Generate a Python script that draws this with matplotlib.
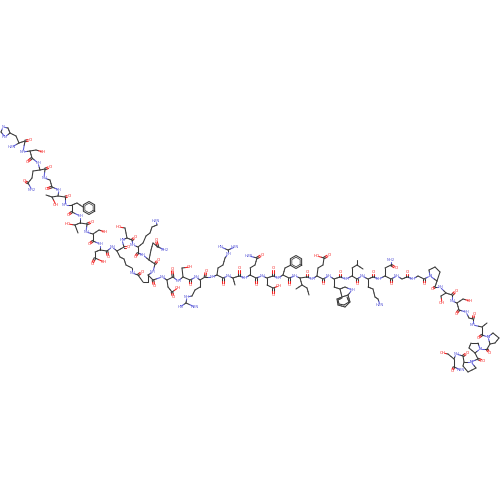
import numpy as np
import matplotlib
matplotlib.use("Agg")
import matplotlib.pyplot as plt

# atoms are (x, y, label), label empty for carbon
backbone = [
    (19, 143, ""), (25, 141, ""), (23, 152, "NH"), (30, 151, ""), (32, 158, ""), (38, 163, "NH"),
    (40, 170, ""), (45, 169, ""), (44, 178, "NH"), (50, 180, ""), (52, 187, ""), (59, 190, "NH"),
    (58, 196, ""), (65, 197, ""), (65, 205, "NH"), (72, 205, ""), (72, 212, ""), (80, 216, "NH"),
    (80, 223, ""), (87, 224, ""), (86, 232, "NH"), (93, 234, ""), (93, 241, ""), (100, 244, "NH"),
    (100, 250, ""), (107, 251, ""), (112, 247, "NH"), (117, 251, ""), (124, 247, ""), (122, 240, "HN"),
    (127, 238, ""), (132, 240, ""), (133, 245, "NH"), (138, 247, ""), (138, 253, ""), (143, 255, "NH"),
    (149, 260, ""), (155, 264, ""), (153, 272, "NH"), (148, 275, ""), (153, 280, ""), (162, 277, "NH"),
    (167, 280, ""), (173, 277, ""), (178, 281, "NH"), (183, 277, ""), (190, 280, ""), (196, 277, "NH"),
    (200, 280, ""), (205, 277, ""), (212, 277, "NH"), (217, 275, ""), (223, 278, ""), (228, 276, "NH"),
    (233, 278, ""), (239, 276, ""), (245, 278, "NH"), (250, 275, ""), (256, 278, ""), (262, 276, "NH"),
    (267, 278, ""), (273, 276, ""), (278, 278, "NH"), (283, 275, ""), (289, 278, ""), (295, 276, "NH"),
    (300, 278, ""), (307, 277, ""), (312, 279, "NH"), (317, 276, ""), (323, 279, ""), (329, 276, "NH"),
    (334, 279, ""), (340, 277, ""), (346, 279, "NH"), (352, 276, ""), (357, 279, ""), (362, 276, "NH"),
    (368, 279, ""), (373, 277, ""), (379, 279, "NH"), (385, 276, ""), (391, 279, ""), (397, 276, "NH"),
    (402, 279, ""), (407, 277, ""), (413, 279, "NH"), (418, 276, ""), (424, 279, ""), (430, 276, "N"),
    (437, 281, ""), (435, 287, ""), (440, 287, "NH"), (446, 293, ""), (452, 295, ""), (452, 301, "NH"),
    (457, 303, ""), (459, 310, ""), (466, 312, "NH"), (469, 318, ""), (473, 319, ""), (473, 325, "NH"),
    (482, 327, ""), (482, 335, ""), (488, 337, "N"), (490, 344, ""), (487, 349, ""), (480, 349, "N"),
    (475, 353, ""), (478, 359, ""), (471, 362, "N"), (464, 362, ""), (463, 356, ""), (456, 354, "NH"),
    (454, 359, ""), (454, 367, ""), (461, 370, "H2N"),
]

his_side = [(19, 143, ""), (16, 136, ""), (10, 133, ""), (8, 128, ""), (3, 127, "N"), (1, 132, ""), (5, 137, "HN"), (10, 133, "")]
his_amine = [(19, 143, ""), (12, 147, "H2N")]
ser2_side = [(30, 151, ""), (36, 150, ""), (43, 152, "OH")]
gln3_side = [(40, 170, ""), (33, 171, ""), (32, 178, ""), (28, 183, ""), (32, 190, "NH2")]
thr5_side = [(58, 196, ""), (52, 197, ""), (46, 195, "")]
thr5_oh = [(52, 197, ""), (56, 205, "OH")]
phe6_side = [(72, 205, ""), (77, 203, ""), (83, 207, "")]
thr7_side = [(80, 223, ""), (75, 225, ""), (78, 233, "")]
thr7_oh = [(75, 225, ""), (68, 224, "HO")]
ser8_side = [(93, 234, ""), (99, 230, ""), (105, 232, "OH")]
asp9_side = [(100, 250, ""), (95, 252, ""), (95, 258, ""), (104, 262, "OH")]
lys10_side = [(117, 251, ""), (120, 257, ""), (124, 259, ""), (126, 265, ""), (132, 268, ""), (132, 273, "NH"), (138, 275, ""), (143, 282, ""), (148, 282, ""), (148, 275, "")]
ser11_side = [(127, 238, ""), (125, 228, ""), (119, 227, "HO")]
lys12_side = [(138, 247, ""), (143, 243, ""), (146, 236, ""), (150, 233, ""), (152, 227, ""), (157, 225, ""), (156, 221, "H2N")]
gln13_side = [(149, 260, ""), (151, 250, ""), (153, 243, ""), (158, 247, ""), (165, 250, "NH2")]
asp15_side = [(167, 280, ""), (168, 287, ""), (172, 292, ""), (178, 288, "OH")]
ser16_side = [(183, 277, ""), (182, 268, ""), (190, 267, "OH")]
arg17_side = [(200, 280, ""), (200, 287, ""), (195, 290, ""), (192, 296, ""), (187, 297, "NH"), (186, 303, ""), (180, 307, "HN")]
arg17_amine = [(186, 303, ""), (195, 307, "H2N")]
arg18_side = [(217, 275, ""), (218, 268, ""), (223, 265, ""), (225, 258, ""), (228, 254, "NH"), (228, 250, ""), (221, 247, "HN")]
arg18_amine = [(228, 250, ""), (235, 247, "H2N")]
ala19_side = [(233, 278, ""), (235, 285, "")]
gln20_side = [(250, 275, ""), (250, 268, ""), (255, 265, ""), (257, 258, ""), (249, 256, "H2N")]
asp21_side = [(267, 278, ""), (267, 285, ""), (273, 288, ""), (279, 286, "OH")]
phe22_side = [(283, 275, ""), (285, 268, ""), (291, 265, "")]
ile23_side = [(300, 278, ""), (302, 285, ""), (307, 288, ""), (309, 295, "")]
ile23_me = [(302, 285, ""), (296, 289, "")]
glu24_side = [(317, 276, ""), (318, 268, ""), (323, 265, ""), (324, 258, ""), (317, 256, "HO")]
trp25_side = [(334, 279, ""), (334, 287, ""), (340, 289, ""), (345, 287, ""), (352, 290, "NH"), (348, 295, ""), (342, 297, ""), (340, 289, "")]
trp25_ring = [(348, 295, ""), (350, 302, ""), (345, 307, ""), (338, 305, ""), (337, 299, ""), (342, 297, "")]
trp25_inner = [(347, 297, ""), (349, 302, ""), (344, 305, ""), (339, 304, ""), (338, 300, ""), (342, 298, "")]
leu26_side = [(352, 276, ""), (352, 268, ""), (357, 265, ""), (357, 260, "")]
leu26_me = [(357, 265, ""), (363, 269, "")]
lys27_side = [(368, 279, ""), (368, 287, ""), (373, 289, ""), (375, 297, ""), (378, 299, ""), (380, 305, "H2N")]
asn28_side = [(385, 276, ""), (385, 268, ""), (391, 265, ""), (391, 260, "NH2")]
pro31_ring = [(430, 276, "N"), (429, 270, ""), (435, 267, ""), (440, 272, ""), (437, 281, "")]
ser32_side = [(446, 293, ""), (441, 296, ""), (442, 303, "OH")]
ser33_side = [(457, 303, ""), (463, 299, ""), (470, 301, "OH")]
ala35_side = [(482, 327, ""), (487, 323, "")]
pro36_ring = [(488, 337, "N"), (493, 333, ""), (499, 338, ""), (495, 343, ""), (490, 344, "")]
pro37_ring = [(480, 349, "N"), (478, 343, ""), (471, 343, ""), (469, 348, ""), (475, 353, "")]
pro38_ring = [(471, 362, "N"), (476, 368, ""), (468, 372, ""), (463, 366, ""), (464, 362, "")]
ser39_side = [(454, 359, ""), (448, 354, ""), (443, 353, "OH")]

side_chains = [
    his_side, his_amine, ser2_side, gln3_side, thr5_side, thr5_oh, phe6_side, thr7_side, thr7_oh,
    ser8_side, asp9_side, lys10_side, ser11_side, lys12_side, gln13_side, asp15_side, ser16_side,
    arg17_side, arg17_amine, arg18_side, arg18_amine, ala19_side, gln20_side, asp21_side, phe22_side,
    ile23_side, ile23_me, glu24_side, trp25_side, trp25_ring, trp25_inner, leu26_side, leu26_me, lys27_side,
    asn28_side, pro31_ring, ser32_side, ser33_side, ala35_side, pro36_ring, pro37_ring, pro38_ring,
    ser39_side,
]

# carbon then oxygen of each C=O
carbonyls = [
    (25, 141, 30, 140), (32, 158, 27, 162), (28, 183, 24, 181), (45, 169, 50, 167), (52, 187, 46, 189),
    (65, 197, 69, 196), (72, 212, 68, 215), (87, 224, 92, 222), (93, 241, 89, 244), (95, 258, 92, 264),
    (107, 251, 108, 257), (124, 247, 128, 247), (132, 240, 135, 237), (138, 253, 135, 257),
    (138, 275, 142, 272), (155, 264, 158, 260), (158, 247, 156, 240), (153, 280, 154, 286),
    (172, 292, 173, 297), (173, 277, 172, 269), (190, 280, 190, 285), (205, 277, 206, 271),
    (223, 278, 223, 285), (239, 276, 239, 268), (257, 258, 262, 255), (256, 278, 256, 285),
    (273, 288, 273, 295), (273, 276, 273, 268), (289, 278, 289, 285), (307, 277, 307, 272),
    (324, 258, 329, 255), (323, 279, 323, 284), (340, 277, 340, 272), (357, 279, 357, 284),
    (373, 277, 373, 272), (391, 265, 396, 268), (391, 279, 391, 284), (407, 277, 407, 272),
    (424, 279, 424, 284), (435, 287, 432, 289), (452, 295, 456, 291), (459, 310, 456, 314),
    (473, 319, 474, 314), (482, 335, 478, 338), (487, 349, 489, 353), (478, 359, 483, 361),
    (463, 356, 467, 353), (454, 367, 452, 371),
]

# phenyl ring centres (Phe6, Phe22)
phenyl_x = [89, 296]
phenyl_y = [208, 262]

COLORS = {"N": "#5a5ad8", "O": "#f52020", "C": "#383838"}
LW = 0.75


def element(label):
    for ch in label:
        if ch in "NO":
            return ch
    return "C"


def draw_bond(ax, a, b):
    p, q = np.array(a[:2], float), np.array(b[:2], float)
    d = q - p
    n = np.hypot(*d)
    if n == 0:
        return
    d = d / n
    if a[2]:
        p = p + d * 1.8
    if b[2]:
        q = q - d * 1.8
    m = (p + q) / 2
    ax.plot([p[0], m[0]], [p[1], m[1]], color=COLORS[element(a[2])], lw=LW, solid_capstyle="round")
    ax.plot([m[0], q[0]], [m[1], q[1]], color=COLORS[element(b[2])], lw=LW, solid_capstyle="round")


fig = plt.figure(figsize=(5, 5), dpi=100)
ax = fig.add_axes([0, 0, 1, 1])
ax.set_xlim(0, 500)
ax.set_ylim(500, 0)
ax.axis("off")

for chain in [backbone] + side_chains:
    for a, b in zip(chain[:-1], chain[1:]):
        draw_bond(ax, a, b)

for cx, cy, ox, oy in carbonyls:
    d = np.array([ox - cx, oy - cy], float)
    d = d / np.hypot(*d)
    nrm = np.array([-d[1], d[0]]) * 0.8
    for s in (-1, 1):
        draw_bond(ax, (cx + s * nrm[0], cy + s * nrm[1], ""), (ox + s * nrm[0], oy + s * nrm[1], "O"))
    ax.text(ox, oy, "O", color=COLORS["O"], fontsize=3.0, ha="center", va="center")

for px, py in zip(phenyl_x, phenyl_y):
    ang = np.deg2rad(np.arange(0, 420, 60) + 30)
    ax.plot(px + 6.5 * np.cos(ang), py + 6.5 * np.sin(ang), color=COLORS["C"], lw=LW)
    ax.plot(px + 4.8 * np.cos(ang), py + 4.8 * np.sin(ang), color=COLORS["C"], lw=LW * 0.7)

for chain in [backbone] + side_chains:
    for x, y, lab in chain:
        if lab:
            ax.text(x, y, lab, color=COLORS[element(lab)], fontsize=2.8, ha="center", va="center")

fig.savefig("out.png", dpi=100, facecolor="white")
